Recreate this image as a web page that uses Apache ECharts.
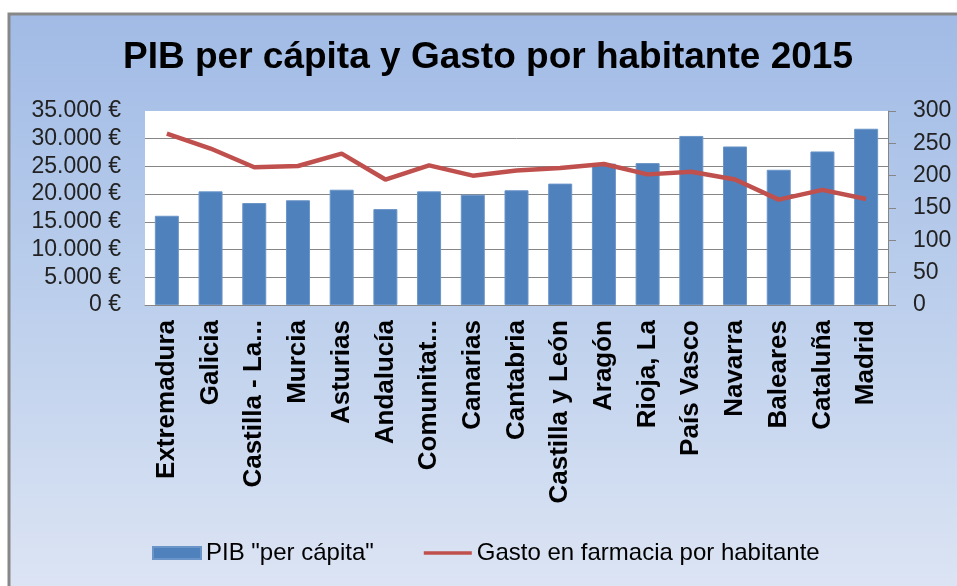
<!DOCTYPE html>
<html>
<head>
<meta charset="utf-8">
<script src="https://cdn.jsdelivr.net/npm/echarts@6/dist/echarts.min.js"></script>
<style>
  html, body { margin: 0; padding: 0; background: #fff; }
  #chart { width: 957px; height: 586px; }
</style>
</head>
<body>
<div id="chart"></div>
<script>
// categories as shown on the axis (Excel truncated two of them)
const regiones = [
  "Extremadura", "Galicia", "Castilla - La...", "Murcia", "Asturias",
  "Andalucía", "Comunitat...", "Canarias", "Cantabria", "Castilla y León",
  "Aragón", "Rioja, La", "País Vasco", "Navarra", "Baleares", "Cataluña", "Madrid"
];

// PIB per cápita (€)
const pibPerCapita = [
  16100, 20500, 18400, 18900, 20800, 17300, 20500, 19900, 20700,
  21900, 25500, 25600, 30500, 28600, 24400, 27700, 31800
];

// Gasto en farmacia por habitante (€)
const gastoFarmacia = [
  265, 242, 213, 215, 234, 194, 216, 200, 208,
  212, 218, 202, 206, 194, 163, 178, 164
];

const fmtEuro = (v) => {
  const s = String(Math.round(v)).replace(/\B(?=(\d{3})+(?!\d))/g, ".");
  return s + " €";
};

const chart = echarts.init(document.getElementById("chart"));

const labelFont = "'Liberation Sans', Arial, sans-serif";

// gridlines: no line drawn at the top (35.000 €)
const gridColors = ["#868686", "#868686", "#868686", "#868686", "#868686", "#868686", "#868686", "rgba(0,0,0,0)"];

const option = {
  backgroundColor: "#ffffff",
  animation: false,
  graphic: [
    {
      type: "rect",
      z: -10,
      shape: { x: 9, y: 14, width: 960, height: 580 },
      style: {
        fill: new echarts.graphic.LinearGradient(0, 0, 0, 1, [
          { offset: 0, color: "#a1bbe6" },
          { offset: 0.5, color: "#bccfec" },
          { offset: 1, color: "#dde5f4" },
        ]),
        stroke: "#878787",
        lineWidth: 3,
      },
    },
  ],
  title: {
    text: "PIB per cápita y Gasto por habitante 2015",
    left: 118,
    top: 34,
    textStyle: {
      fontFamily: labelFont,
      fontSize: 37,
      fontWeight: "bold",
      color: "#000",
    },
  },
  legend: {
    left: 147,
    top: 536,
    itemGap: 50,
    itemWidth: 48,
    itemHeight: 12,
    textStyle: { fontFamily: labelFont, fontSize: 24, color: "#000" },
    data: [
      { name: 'PIB "per cápita"', icon: "rect" },
      { name: "Gasto en farmacia por habitante", icon: "path://M0 0 H55 V4 H0 Z" },
    ],
  },
  grid: {
    left: 145,
    right: 69,
    top: 111,
    bottom: 281,
    show: true,
    backgroundColor: "#ffffff",
    borderWidth: 0,
  },
  xAxis: {
    type: "category",
    data: regiones,
    axisLine: { lineStyle: { color: "#868686", width: 1 } },
    axisTick: { show: false },
    axisLabel: {
      rotate: 90,
      interval: 0,
      margin: 15,
      fontFamily: labelFont,
      fontWeight: "bold",
      fontSize: 26,
      color: "#000",
    },
  },
  yAxis: [
    {
      type: "value",
      min: 0,
      max: 35000,
      interval: 5000,
      axisLine: { show: false },
      axisTick: { show: false },
      splitLine: { lineStyle: { color: gridColors, width: 1 } },
      axisLabel: {
        formatter: fmtEuro,
        margin: 24,
        fontFamily: labelFont,
        fontSize: 23,
        color: "#222",
      },
    },
    {
      type: "value",
      min: 0,
      max: 300,
      interval: 50,
      position: "right",
      axisLine: { show: true, lineStyle: { color: "#868686", width: 1 } },
      axisTick: { show: true, length: 8, lineStyle: { color: "#868686" } },
      splitLine: { show: false },
      axisLabel: {
        margin: 25,
        fontFamily: labelFont,
        fontSize: 23,
        color: "#222",
      },
    },
  ],
  series: [
    {
      name: 'PIB "per cápita"',
      type: "bar",
      yAxisIndex: 0,
      barWidth: 24,
      data: pibPerCapita,
      itemStyle: { color: "#4f81bd", borderColor: "#6b95c8", borderWidth: 1 },
    },
    {
      name: "Gasto en farmacia por habitante",
      type: "line",
      yAxisIndex: 1,
      data: gastoFarmacia,
      showSymbol: false,
      symbol: "none",
      lineStyle: { color: "#c0504d", width: 4.5 },
      itemStyle: { color: "#c0504d" },
    },
  ],
};

chart.setOption(option);
</script>
</body>
</html>
